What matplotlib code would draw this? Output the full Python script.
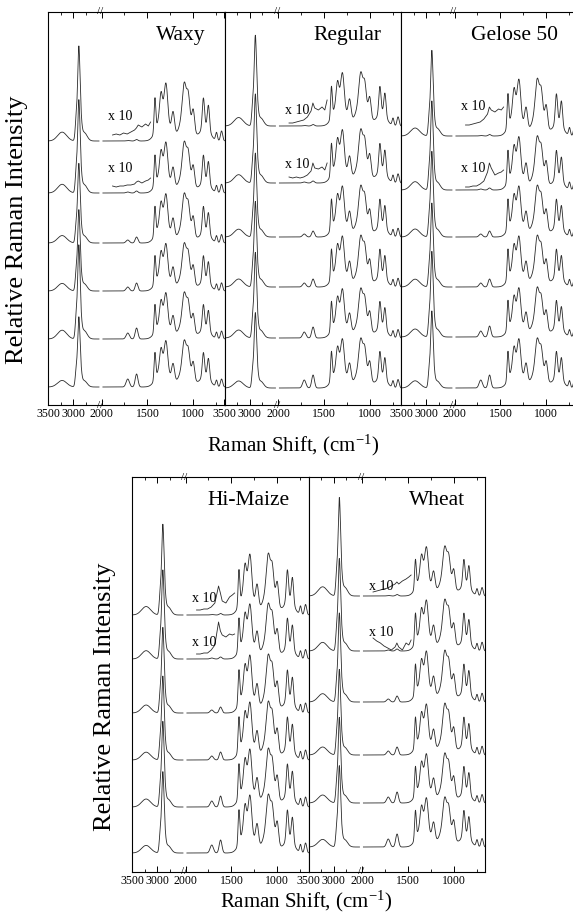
import numpy as np
import matplotlib
matplotlib.use("Agg")
import matplotlib.pyplot as plt
import matplotlib.transforms as mtransforms

plt.rcParams['font.family'] = ['Liberation Serif', 'DejaVu Serif']
plt.rcParams['mathtext.default'] = 'regular'

# ---------------- data ----------------
TOP_PANELS = ['Waxy', 'Regular', 'Gelose 50']
BOTTOM_PANELS = ['Hi-Maize', 'Wheat']

MAJOR_TICKS = [3500, 3000, 2000, 1500, 1000]
MAJOR_LABELS = ['3500', '3000', '2000', '1500', '1000']
MINOR_TICKS = [3250, 2750, 1750, 1250, 750]

# C-H / O-H stretching region bands (cm-1): centre, relative height, width
CH_CENTERS = [3220, 2940, 2890, 2850, 2790]
CH_REL = [0.08, 0.20, 0.80, 0.14, 0.08]
CH_SIGMAS = [90, 20, 22, 22, 60]

# fingerprint bands: centre, height, width
FP_CENTERS = [1418, 1352, 1297, 1330, 1220, 1099, 1055, 1000, 1080, 890, 835, 870, 747, 692]
FP_HEIGHTS = [33, 21, 32, 30, 22, 30, 20, 19, 30, 29, 24, 15, 8, 10]
FP_SIGMAS = [9, 14, 18, 60, 16, 20, 15, 14, 60, 12, 12, 50, 10, 12]

# weak bands (1714, 1618) per trace, bottom -> top
WEAK_CENTERS = [1714, 1618]
WEAK_SIGMAS = [18, 15]
WEAK_HEIGHTS = [[8, 13], [6, 11], [4, 8], [3, 6], [1, 2], [0.5, 1.5]]

# stacking offsets of the six spectra (bottom -> top)
OFFSETS = {
    'Waxy':      [18, 66, 114, 162, 212, 264],
    'Regular':   [17, 67, 118, 168, 222, 279],
    'Gelose 50': [17, 68, 118, 168, 215, 269],
    'Hi-Maize':  [19, 65, 112, 159, 213, 257],
    'Wheat':     [25, 69, 117, 170, 221, 276],
}
# C-H peak height per trace (bottom -> top)
CH_HEIGHT = {
    'Waxy':      [82, 110, 95, 93, 109, 111],
    'Regular':   [88, 100, 100, 98, 104, 106],
    'Gelose 50': [90, 100, 98, 100, 104, 100],
    'Hi-Maize':  [95, 100, 98, 100, 104, 106],
    'Wheat':     [95, 100, 100, 104, 108, 115],
}
# fingerprint scale per trace (bottom -> top)
FP_SCALE = {
    'Waxy':      [0.80, 0.80, 0.82, 0.85, 0.88, 1.00],
    'Regular':   [0.85, 0.85, 0.88, 0.88, 0.92, 0.92],
    'Gelose 50': [0.85, 0.85, 0.88, 0.88, 0.92, 0.98],
    'Hi-Maize':  [1.00, 1.00, 1.00, 1.00, 0.95, 1.05],
    'Wheat':     [0.85, 0.85, 0.88, 0.88, 0.88, 0.85],
}

# "x 10" expansions of the 1880-1465 cm-1 range, for the two top traces
INSET_W = [1880, 1840, 1800, 1760, 1720, 1680, 1640, 1620, 1600, 1560, 1520, 1490, 1465]
INSET_Y = {
    'Waxy':      {5: [6, 7, 6, 8, 7, 9, 11, 13, 16, 14, 17, 15, 19],
                  4: [7, 6, 7, 7, 8, 8, 9, 11, 12, 10, 12, 13, 15]},
    'Regular':   {5: [3, 3, 4, 5, 6, 9, 15, 23, 18, 16, 19, 16, 26],
                  4: [6, 5, 6, 5, 6, 8, 12, 20, 15, 14, 16, 13, 20]},
    'Gelose 50': {5: [11, 11, 12, 13, 14, 17, 22, 29, 26, 24, 27, 26, 29],
                  4: [3, 3, 4, 4, 6, 9, 18, 27, 22, 15, 17, 18, 20]},
    'Hi-Maize':  {5: [5, 5, 6, 6, 8, 12, 29, 22, 14, 12, 18, 20, 22],
                  4: [5, 5, 6, 6, 9, 14, 37, 28, 24, 22, 25, 24, 25]},
    'Wheat':     {5: [4, 5, 6, 7, 8, 10, 12, 14, 12, 15, 17, 19, 21],
                  4: [13, 10, 8, 5, 3, 1, 4, 8, 4, 1, 8, 6, 11]},
}
INSET_LABEL_Y = {'Waxy': 24, 'Regular': 18, 'Gelose 50': 24, 'Hi-Maize': 18, 'Wheat': 12}

# ---------------- broken wavenumber scale ----------------
W_KNOTS = [0.0, 2000.0, 2480.0, 6000.0]
U_KNOTS = [0.0, 2000.0, 2022.0, 2022.0 + (6000.0 - 2480.0) * 0.55]


def fwd(x):
    return np.interp(x, W_KNOTS, U_KNOTS)


def inv(u):
    return np.interp(u, U_KNOTS, W_KNOTS)


def bands(w, centers, heights, sigmas):
    out = np.zeros_like(w)
    for c, h, s in zip(centers, heights, sigmas):
        out += h * np.exp(-0.5 * ((w - c) / s) ** 2)
    return out


W_HIGH = np.linspace(3500, 2490, 500)
W_LOW = np.linspace(1985, 660, 900)

LINE = '#2a2a2a'


def draw_panel(ax, name, height):
    ax.set_xscale('function', functions=(fwd, inv))
    ax.set_xlim(3500, 660)
    ax.set_ylim(0, height)
    offs = OFFSETS[name]
    for i in range(6):
        base = offs[i]
        ch = bands(W_HIGH, CH_CENTERS, [r * CH_HEIGHT[name][i] for r in CH_REL], CH_SIGMAS)
        ax.plot(W_HIGH, base + ch, color=LINE, lw=0.6)
        fp = bands(W_LOW, FP_CENTERS, [h * FP_SCALE[name][i] for h in FP_HEIGHTS], FP_SIGMAS)
        fp += bands(W_LOW, WEAK_CENTERS, WEAK_HEIGHTS[i], WEAK_SIGMAS)
        ax.plot(W_LOW, base + fp, color=LINE, lw=0.6)
        if i in INSET_Y[name]:
            ax.plot(INSET_W, base + np.array(INSET_Y[name][i]), color=LINE, lw=0.6)
            ax.text(1925, base + INSET_Y[name][i][0] + INSET_LABEL_Y[name] - 6, 'x 10',
                    fontsize=10, ha='left', va='center')
    ax.text(0.89, 0.94, name, transform=ax.transAxes, fontsize=15.5,
            ha='right', va='center')
    ax.set_xticks(MAJOR_TICKS, labels=MAJOR_LABELS)
    ax.set_xticks(MINOR_TICKS, minor=True)
    ax.tick_params(axis='x', which='major', direction='in', length=4, width=0.7,
                   top=True, labelsize=8.5, pad=2)
    ax.tick_params(axis='x', which='minor', direction='in', length=2, width=0.6, top=True)
    ax.set_yticks([])
    for sp in ax.spines.values():
        sp.set_linewidth(0.8)
    trans = mtransforms.blended_transform_factory(ax.transData, ax.transAxes)
    for yy in (0.0, 1.0):
        ax.text(2240, yy, '//', transform=trans, fontsize=8, ha='center', va='center',
                clip_on=False)


FW, FH = 573, 923
fig = plt.figure(figsize=(FW / 100, FH / 100), dpi=100)


def add_ax(left, top, width, height):
    return fig.add_axes([left / FW, 1 - (top + height) / FH, width / FW, height / FH])


PW = 176.5
for k, name in enumerate(TOP_PANELS):
    ax = add_ax(48 + k * PW, 12, PW, 393)
    draw_panel(ax, name, 393)
for k, name in enumerate(BOTTOM_PANELS):
    ax = add_ax(132 + k * PW, 477, PW, 395)
    draw_panel(ax, name, 395)

fig.text(17 / FW, 1 - 230 / FH, 'Relative Raman Intensity', rotation=90,
         ha='center', va='center', fontsize=19)
fig.text(105 / FW, 1 - 697 / FH, 'Relative Raman Intensity', rotation=90,
         ha='center', va='center', fontsize=19)
fig.text(293 / FW, 1 - 445 / FH, 'Raman Shift, (cm$^{-1}$)', ha='center', va='center',
         fontsize=15)
fig.text(306 / FW, 1 - 901 / FH, 'Raman Shift, (cm$^{-1}$)', ha='center', va='center',
         fontsize=15)

fig.savefig('out.png', dpi=100)
